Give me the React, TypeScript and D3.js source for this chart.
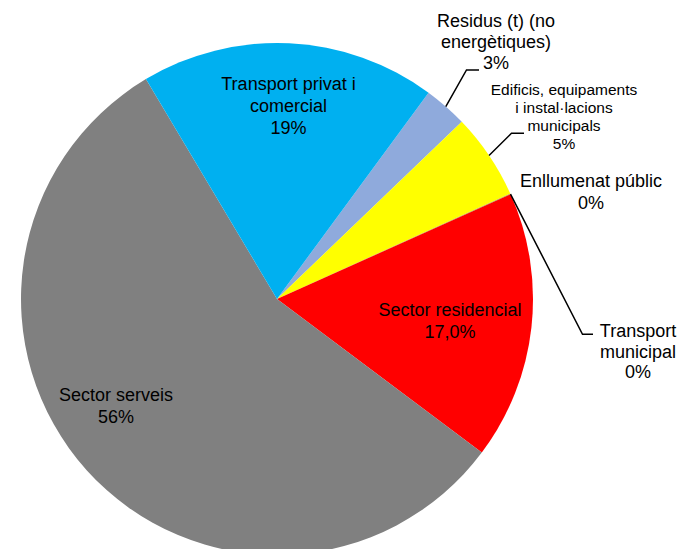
import React from "react";
import * as d3 from "d3";

// Slice order, clockwise from the blue/lavender boundary
const categories = [
  "Residus (t) (no energètiques)",
  "Edificis, equipaments i instal·lacions municipals",
  "Enllumenat públic",
  "Transport municipal",
  "Sector residencial",
  "Sector serveis",
  "Transport privat i comercial",
];
const shares = [2.75, 5.4, 0.03, 0.03, 16.95, 56.2, 18.64];
const percentLabels = ["3%", "5%", "0%", "0%", "17,0%", "56%", "19%"];
const labelLines = [
  ["Residus (t) (no", "energètiques)"],
  ["Edificis, equipaments", "i instal·lacions", "municipals"],
  ["Enllumenat públic"],
  ["Transport", "municipal"],
  ["Sector residencial"],
  ["Sector serveis"],
  ["Transport privat i", "comercial"],
];
const sliceColors = ["#8FAADC", "#FFFF00", "#FFC000", "#70AD47", "#FF0000", "#808080", "#00B0F0"];

const WIDTH = 681;
const HEIGHT = 549;
const cx = 277;
const cy = 299;
const radius = 256;
const startDeg = 36.3;

interface LabelLayout {
  x: number;
  y: number;
  size: number;
  lineH: number;
  elbow?: [number, number];
  endX?: number;
}

// label placement (outside labels get a leader line)
const layout: LabelLayout[] = [
  { x: 496, y: 27, size: 18, lineH: 21, elbow: [466.5, 70], endX: 479 },
  { x: 564, y: 95, size: 15.5, lineH: 18, elbow: [511.5, 133.3], endX: 524 },
  { x: 591, y: 187, size: 18, lineH: 21.5 },
  { x: 638, y: 337, size: 18, lineH: 20.5, elbow: [582.5, 334.3], endX: 593 },
  { x: 450, y: 316, size: 18, lineH: 22 },
  { x: 116, y: 401, size: 18, lineH: 22 },
  { x: 288.5, y: 89.5, size: 18, lineH: 22 },
];

const App: React.FC = () => {
  const start = (startDeg * Math.PI) / 180;
  const pie = d3
    .pie<number>()
    .sort(null)
    .value((d) => d)
    .startAngle(start)
    .endAngle(start + 2 * Math.PI);
  const arcs = pie(shares);
  const arc = d3.arc<d3.PieArcDatum<number>>().innerRadius(0).outerRadius(radius);

  return (
    <svg
      width={WIDTH}
      height={HEIGHT}
      style={{ position: "absolute", left: 0, top: 0, background: "#fff" }}
      fontFamily="'Liberation Sans', Arial, sans-serif"
    >
      <g transform={`translate(${cx},${cy})`}>
        {arcs.map((a, i) => (
          <path key={categories[i]} d={arc(a) || ""} fill={sliceColors[i]} />
        ))}
      </g>
      {arcs.map((a, i) => {
        const l = layout[i];
        if (!l.elbow) return null;
        const mid = (a.startAngle + a.endAngle) / 2;
        const px = cx + radius * Math.sin(mid);
        const py = cy - radius * Math.cos(mid);
        return (
          <polyline
            key={"leader" + i}
            points={`${px},${py} ${l.elbow[0]},${l.elbow[1]} ${l.endX},${l.elbow[1]}`}
            fill="none"
            stroke="#000"
            strokeWidth={1.5}
          />
        );
      })}
      {categories.map((c, i) => {
        const l = layout[i];
        const lines = [...labelLines[i], percentLabels[i]];
        return (
          <text key={"label" + c} textAnchor="middle" fontSize={l.size} fill="#000">
            {lines.map((t, j) => (
              <tspan key={j} x={l.x} y={l.y + j * l.lineH}>
                {t}
              </tspan>
            ))}
          </text>
        );
      })}
    </svg>
  );
};

export default App;
